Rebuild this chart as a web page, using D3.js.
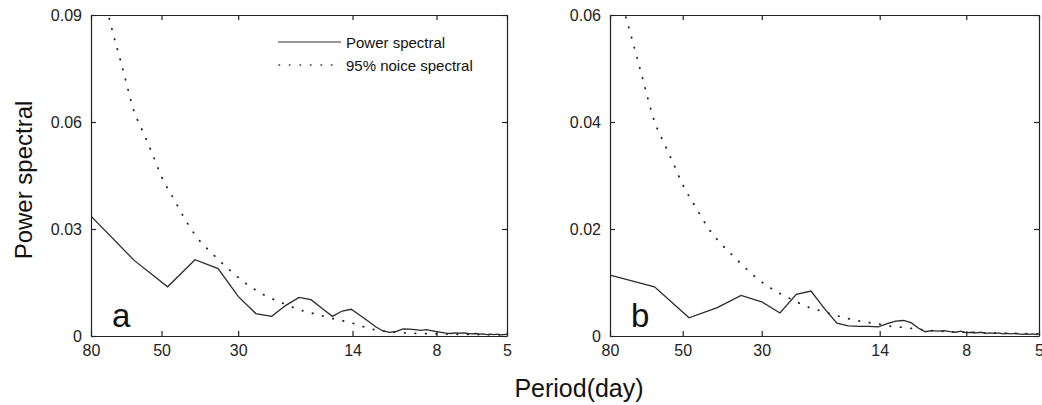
<!DOCTYPE html>
<html>
<head>
<meta charset="utf-8">
<script src="https://cdn.jsdelivr.net/npm/d3@7"></script>
<style>
  body { margin: 0; background: #fff; }
  svg { display: block; font-family: "Liberation Sans", Arial, sans-serif; }
  .axis path, .axis line { stroke: #222; stroke-width: 1.2; }
  .axis text { fill: #222; font-size: 16px; }
</style>
</head>
<body>
<div id="chart"></div>
<script>
// Spectral estimates at the Fourier periods (days)
const periods = [80, 60, 48, 40, 34.29, 30, 26.67, 24, 21.82, 20, 18.46, 17.14, 16, 15, 14.12,
  13.33, 12.63, 12, 11.43, 10.91, 10.43, 10, 9.6, 9.23, 8.89, 8.57, 8.28, 8, 7.74, 7.5, 7.27,
  7.06, 6.86, 6.67, 6.49, 6.32, 6.15, 6, 5.85, 5.71, 5.58, 5.45, 5.33, 5.22, 5.11, 5];

const powerA = [0.0336, 0.0212, 0.0138, 0.0214, 0.0189, 0.0111, 0.0063, 0.0055, 0.0086, 0.0108,
  0.0102, 0.0077, 0.0055, 0.0070, 0.0075, 0.0058, 0.0042, 0.0026, 0.0014, 0.0010, 0.0013, 0.0020,
  0.0019, 0.0018, 0.0016, 0.0018, 0.0015, 0.0012, 0.0010, 0.0008, 0.0007, 0.0009, 0.0008, 0.0009,
  0.0007, 0.0006, 0.0007, 0.0005, 0.0006, 0.0004, 0.0005, 0.0004, 0.0005, 0.0003, 0.0004, 0.0005];

const powerB = [0.0114, 0.0092, 0.0034, 0.0053, 0.0076, 0.0064, 0.0043, 0.0078, 0.0084, 0.0051,
  0.0024, 0.0019, 0.0018, 0.0018, 0.0017, 0.0023, 0.0028, 0.0029, 0.0025, 0.0015, 0.0008, 0.0010,
  0.0009, 0.0010, 0.0008, 0.0007, 0.0009, 0.0006, 0.0007, 0.0006, 0.0007, 0.0005, 0.0006, 0.0005,
  0.0006, 0.0004, 0.0005, 0.0004, 0.0005, 0.0004, 0.0003, 0.0004, 0.0003, 0.0004, 0.0003, 0.0004];

// 95% red-noise level
const noisePeriods = [80, 75, 70, 65, 60, 56, 53, 50, 46, 42, 39, 36, 32, 29, 25, 22, 20, 18, 16,
  15, 14, 13, 12, 11, 10, 8, 6, 5];
const noiseA = [0.112, 0.099, 0.087, 0.0755, 0.063, 0.0563, 0.0508, 0.0447, 0.0383, 0.0315, 0.0270,
  0.0235, 0.0188, 0.0153, 0.0113, 0.0090, 0.0074, 0.0062, 0.0049, 0.0043, 0.0036, 0.0026, 0.0017,
  0.0012, 0.0009, 0.0006, 0.0004, 0.0003];
const noiseB = [0.071, 0.0635, 0.0564, 0.0485, 0.0401, 0.0356, 0.0321, 0.0283, 0.0241, 0.0198, 0.0172,
  0.0149, 0.0116, 0.0094, 0.0070, 0.0053, 0.0045, 0.0036, 0.0028, 0.0025, 0.0022, 0.0018, 0.0016,
  0.0013, 0.0010, 0.0007, 0.0005, 0.0004];

const xTicks = [80, 50, 30, 14, 8, 5];
const yTicksA = [0, 0.03, 0.06, 0.09];
const yTicksB = [0, 0.02, 0.04, 0.06];
const legendLabels = ["Power spectral", "95% noice spectral"];

const width = 1042, height = 405;
const plotTop = 15, plotBottom = 336;

const svg = d3.select("#chart").append("svg")
  .attr("width", width)
  .attr("height", height);

const fmt = d => d === 0 ? "0" : d.toFixed(2);

function drawPanel(opts) {
  const x = d3.scaleLog().domain([80, 5]).range([opts.left, opts.right]);
  const y = d3.scaleLinear().domain([0, opts.yMax]).range([plotBottom, plotTop]);

  const g = svg.append("g");

  // clip so the noise curve is cut at the top frame
  g.append("clipPath").attr("id", "clip" + opts.label)
    .append("rect")
    .attr("x", opts.left).attr("y", plotTop)
    .attr("width", opts.right - opts.left).attr("height", plotBottom - plotTop);

  const noiseLine = d3.line()
    .x((d, i) => x(noisePeriods[i]))
    .y(d => y(d))
    .curve(d3.curveMonotoneX);

  const powerLine = d3.line()
    .x((d, i) => x(periods[i]))
    .y(d => y(d));

  g.append("path")
    .datum(opts.noise)
    .attr("clip-path", `url(#clip${opts.label})`)
    .attr("d", noiseLine)
    .attr("fill", "none")
    .attr("stroke", "#222")
    .attr("stroke-width", 1.8)
    .attr("stroke-linecap", "round")
    .attr("stroke-dasharray", "0.5,10");

  g.append("path")
    .datum(opts.power)
    .attr("clip-path", `url(#clip${opts.label})`)
    .attr("d", powerLine)
    .attr("fill", "none")
    .attr("stroke", "#2a2a2a")
    .attr("stroke-width", 1.3);

  // box with inward ticks, matlab style
  g.append("g").attr("class", "axis")
    .attr("transform", `translate(0,${plotBottom})`)
    .call(d3.axisBottom(x).tickValues(xTicks).tickFormat(d3.format("d"))
      .tickSizeInner(-5).tickSizeOuter(0).tickPadding(9));
  g.append("g").attr("class", "axis")
    .attr("transform", `translate(0,${plotTop})`)
    .call(d3.axisTop(x).tickValues(xTicks).tickFormat("")
      .tickSizeInner(-5).tickSizeOuter(0));
  g.append("g").attr("class", "axis")
    .attr("transform", `translate(${opts.left},0)`)
    .call(d3.axisLeft(y).tickValues(opts.yTicks).tickFormat(fmt)
      .tickSizeInner(-5).tickSizeOuter(0).tickPadding(9));
  g.append("g").attr("class", "axis")
    .attr("transform", `translate(${opts.right},0)`)
    .call(d3.axisRight(y).tickValues(opts.yTicks).tickFormat("")
      .tickSizeInner(-5).tickSizeOuter(0));

  g.append("text")
    .attr("x", opts.left + 21)
    .attr("y", 327)
    .attr("font-size", 33)
    .attr("fill", "#111")
    .text(opts.label);

  return { x, y, g };
}

const pa = drawPanel({ left: 91, right: 507, yMax: 0.09, yTicks: yTicksA,
  power: powerA, noise: noiseA, label: "a" });
drawPanel({ left: 610, right: 1039, yMax: 0.06, yTicks: yTicksB,
  power: powerB, noise: noiseB, label: "b" });

// legend (panel a only)
const legend = pa.g.append("g").attr("transform", "translate(278,0)");
legend.append("line")
  .attr("x1", 0).attr("x2", 63).attr("y1", 42).attr("y2", 42)
  .attr("stroke", "#333").attr("stroke-width", 1.2);
legend.append("line")
  .attr("x1", 1).attr("x2", 63).attr("y1", 65).attr("y2", 65)
  .attr("stroke", "#333").attr("stroke-width", 1.6)
  .attr("stroke-linecap", "round")
  .attr("stroke-dasharray", "0.5,10");
legend.selectAll("text.lg")
  .data(legendLabels)
  .enter()
  .append("text")
  .attr("class", "lg")
  .attr("x", 68)
  .attr("y", (d, i) => 48 + i * 23)
  .attr("font-size", 15)
  .attr("fill", "#111")
  .text(d => d);

// axis titles
svg.append("text")
  .attr("transform", "translate(32,180) rotate(-90)")
  .attr("text-anchor", "middle")
  .attr("font-size", 24)
  .attr("fill", "#111")
  .text("Power spectral");

svg.append("text")
  .attr("x", 579)
  .attr("y", 397)
  .attr("text-anchor", "middle")
  .attr("font-size", 25)
  .attr("fill", "#111")
  .text("Period(day)");
</script>
</body>
</html>
